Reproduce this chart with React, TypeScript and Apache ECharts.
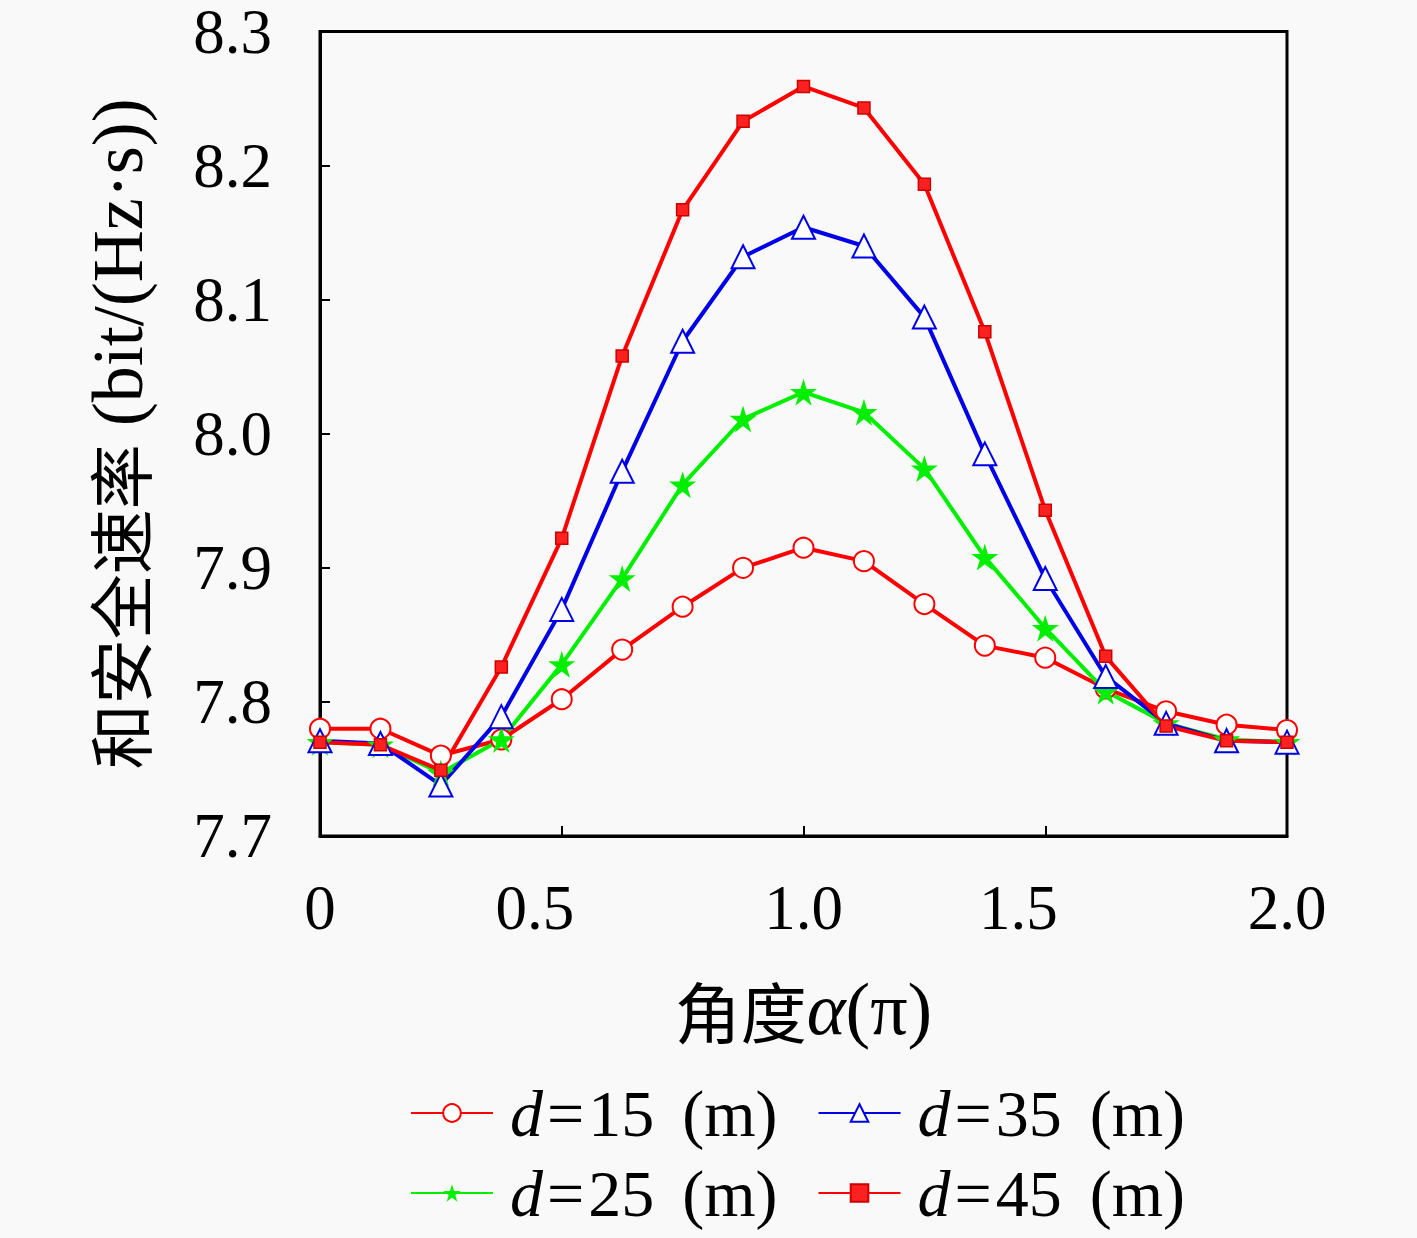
import React, { useEffect, useRef } from "react";
import * as echarts from "echarts";

const angles = [0, 0.125, 0.25, 0.375, 0.5, 0.625, 0.75, 0.875, 1.0, 1.125, 1.25, 1.375, 1.5, 1.625, 1.75, 1.875, 2.0];
const d15 = [7.780, 7.780, 7.760, 7.772, 7.802, 7.839, 7.871, 7.900, 7.915, 7.905, 7.873, 7.842, 7.833, 7.810, 7.793, 7.783, 7.779];
const d25 = [7.770, 7.768, 7.747, 7.772, 7.828, 7.892, 7.962, 8.011, 8.031, 8.016, 7.974, 7.908, 7.855, 7.808, 7.784, 7.772, 7.770];
const d35 = [7.771, 7.769, 7.738, 7.789, 7.869, 7.972, 8.069, 8.132, 8.154, 8.140, 8.087, 7.985, 7.892, 7.819, 7.784, 7.771, 7.770];
const d45 = [7.770, 7.768, 7.749, 7.826, 7.922, 8.058, 8.167, 8.233, 8.259, 8.243, 8.186, 8.076, 7.943, 7.834, 7.782, 7.771, 7.770];
const seriesNames = ["d=15 (m)", "d=25 (m)", "d=35 (m)", "d=45 (m)"];
const yTicks = { min: 7.7, max: 8.3, interval: 0.1 };
const xTicks = { min: 0, max: 2, interval: 0.5 };

const SERIF = "'Liberation Serif', 'Noto Sans CJK SC', serif";
const CJK = "'Noto Sans CJK SC', 'Liberation Serif', serif";

export default function App() {
  const ref = useRef<HTMLDivElement>(null);
  useEffect(() => {
    document.body.style.margin = "0";
    const chart = echarts.init(ref.current!, null, { renderer: "svg" });
    const mk = (vals: number[]) => angles.map((a, i) => [a, vals[i]]);
    const LF = 66;
    const legendText = {
      fontFamily: SERIF,
      fontSize: LF,
      color: "#000",
      rich: {
        i: { fontFamily: SERIF, fontSize: LF, fontStyle: "italic", color: "#000", padding: [0, 0, 0, 12] },
        e: { fontFamily: SERIF, fontSize: LF, color: "#000", padding: [0, 4, 0, 4] },
        n: { fontFamily: SERIF, fontSize: LF, color: "#000" },
        u: { fontFamily: SERIF, fontSize: LF, color: "#000", padding: [0, 0, 0, 28] },
      },
    };
    const legendFmt = (name: string) => {
      const num = name.slice(2, name.indexOf(" "));
      const unit = name.slice(name.indexOf(" ") + 1);
      return `{i|d}{e|=}{n|${num}}{u|${unit}}`;
    };
    const tickRich = {
      c: { fontFamily: SERIF, fontSize: 63, color: "#000" },
      s: { fontFamily: SERIF, fontSize: 63, color: "#000", padding: [0, 54, 0, 0] },
    };
    const LW = 4;
    const option: any = {
      animation: false,
      backgroundColor: "#f9f9f9",
      grid: {
        left: 320,
        right: 130,
        top: 30,
        bottom: 402,
        show: true,
        borderColor: "#000",
        borderWidth: 3,
        backgroundColor: "transparent",
      },
      xAxis: {
        type: "value",
        min: xTicks.min,
        max: xTicks.max,
        interval: xTicks.interval,
        name: "{c|角度}{a|α}{p|(π)}",
        nameLocation: "middle",
        nameGap: 136,
        nameTextStyle: {
          rich: {
            c: { fontFamily: CJK, fontSize: 66, color: "#000" },
            a: { fontFamily: SERIF, fontSize: 74, fontStyle: "italic", color: "#000" },
            p: { fontFamily: SERIF, fontSize: 74, color: "#000" },
          },
        },
        axisLine: { show: true, lineStyle: { color: "#000", width: 3 } },
        axisTick: { show: true, inside: true, length: 10, lineStyle: { color: "#000", width: 2 } },
        splitLine: { show: false },
        axisLabel: {
          margin: 40,
          rich: tickRich,
          formatter: (v: number) => {
            if (v === 0) return "{c|0}";
            const t = v.toFixed(1);
            return v === 0.5 || v === 1.5 ? `{s|${t}}` : `{c|${t}}`;
          },
        },
      },
      yAxis: {
        type: "value",
        min: yTicks.min,
        max: yTicks.max,
        interval: yTicks.interval,
        name: "{c|和安全速率}{p| (bit/(Hz·s))}",
        nameLocation: "middle",
        nameGap: 166,
        nameTextStyle: {
          rich: {
            c: { fontFamily: CJK, fontSize: 65, color: "#000" },
            p: { fontFamily: SERIF, fontSize: 72, color: "#000" },
          },
        },
        axisLine: { show: true, lineStyle: { color: "#000", width: 3 } },
        axisTick: { show: true, inside: true, length: 10, lineStyle: { color: "#000", width: 2 } },
        splitLine: { show: false },
        axisLabel: {
          margin: 48,
          fontFamily: SERIF,
          fontSize: 63,
          lineHeight: 56,
          color: "#000",
          formatter: (v: number) => v.toFixed(1),
        },
      },
      legend: [
        {
          data: [seriesNames[0], seriesNames[2]],
          left: 405,
          top: 1075,
          itemWidth: 82,
          itemHeight: 22,
          itemGap: 40,
          formatter: legendFmt,
          textStyle: legendText,
          selectedMode: false,
        },
        {
          data: [seriesNames[1], seriesNames[3]],
          left: 405,
          top: 1155,
          itemWidth: 82,
          itemHeight: 22,
          itemGap: 40,
          formatter: legendFmt,
          textStyle: legendText,
          selectedMode: false,
        },
      ],
      series: [
        {
          name: seriesNames[0],
          type: "line",
          data: mk(d15),
          symbol: "emptyCircle",
          symbolSize: 20,
          lineStyle: { color: "#ff0000", width: LW },
          itemStyle: { color: "#ff0000", borderWidth: LW },
          emphasis: { disabled: true },
        },
        {
          name: seriesNames[1],
          type: "line",
          data: mk(d25),
          symbol: "path://M50,0 L61,35 L98,35 L68,57 L79,92 L50,70 L21,92 L32,57 L2,35 L39,35 Z",
          symbolSize: 27,
          lineStyle: { color: "#00ee00", width: LW },
          itemStyle: { color: "#00ee00" },
          emphasis: { disabled: true },
        },
        {
          name: seriesNames[2],
          type: "line",
          data: mk(d35),
          symbol: "emptyTriangle",
          symbolSize: 23,
          lineStyle: { color: "#0000e6", width: LW },
          itemStyle: { color: "#0000e6", borderWidth: LW },
          emphasis: { disabled: true },
        },
        {
          name: seriesNames[3],
          type: "line",
          data: mk(d45),
          symbol: "rect",
          symbolSize: 12,
          lineStyle: { color: "#ff0000", width: LW },
          itemStyle: { color: "#ff2020", borderColor: "#cc0000", borderWidth: 1.5 },
          emphasis: { disabled: true },
        },
      ],
    };
    chart.setOption(option);
    return () => chart.dispose();
  }, []);
  return <div ref={ref} style={{ width: 1417, height: 1238 }} />;
}
